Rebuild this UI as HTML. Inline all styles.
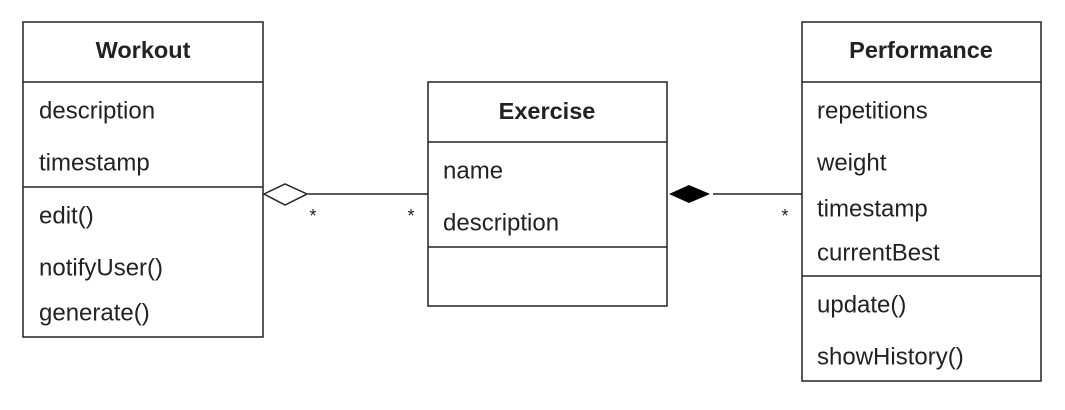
<!DOCTYPE html>
<html><head><style>html,body{margin:0;padding:0;background:#fff;}</style></head>
<body>
<svg width="1065" height="405" viewBox="0 0 1065 405" xmlns="http://www.w3.org/2000/svg" font-family="Liberation Sans, sans-serif" font-size="24" fill="#222">
<g fill="none" stroke="#222" stroke-width="1.5">
<rect x="23" y="22" width="240" height="315"/>
<line x1="23" y1="82" x2="263" y2="82"/>
<line x1="23" y1="187" x2="263" y2="187"/>
<rect x="428" y="82" width="239" height="224"/>
<line x1="428" y1="142" x2="667" y2="142"/>
<line x1="428" y1="247" x2="667" y2="247"/>
<rect x="802" y="22" width="239" height="359"/>
<line x1="802" y1="82" x2="1041" y2="82"/>
<line x1="802" y1="276" x2="1041" y2="276"/>
<line x1="308" y1="194" x2="428" y2="194"/>
<polygon points="264,194 285,184 307,194 285,205" fill="#fff"/>
<line x1="713" y1="194" x2="802" y2="194"/>
</g>
<polygon points="669,194 689,185 710,194 689,203" fill="#000"/>
<g dominant-baseline="central">
<text x="143" y="50" text-anchor="middle" font-weight="bold" font-size="23.5">Workout</text>
<text x="39" y="111">description</text>
<text x="39" y="163">timestamp</text>
<text x="39" y="216">edit()</text>
<text x="39" y="268">notifyUser()</text>
<text x="39" y="313">generate()</text>
<text x="547" y="111" text-anchor="middle" font-weight="bold" font-size="23.5">Exercise</text>
<text x="443" y="171">name</text>
<text x="443" y="223">description</text>
<text x="921" y="50" text-anchor="middle" font-weight="bold" font-size="23.5">Performance</text>
<text x="817" y="111">repetitions</text>
<text x="817" y="163">weight</text>
<text x="817" y="209">timestamp</text>
<text x="817" y="253">currentBest</text>
<text x="817" y="305">update()</text>
<text x="817" y="357">showHistory()</text>
<text x="313" y="216" font-size="18" text-anchor="middle">*</text>
<text x="411" y="216" font-size="18" text-anchor="middle">*</text>
<text x="785" y="216" font-size="18" text-anchor="middle">*</text>
</g>
</svg>
</body></html>
